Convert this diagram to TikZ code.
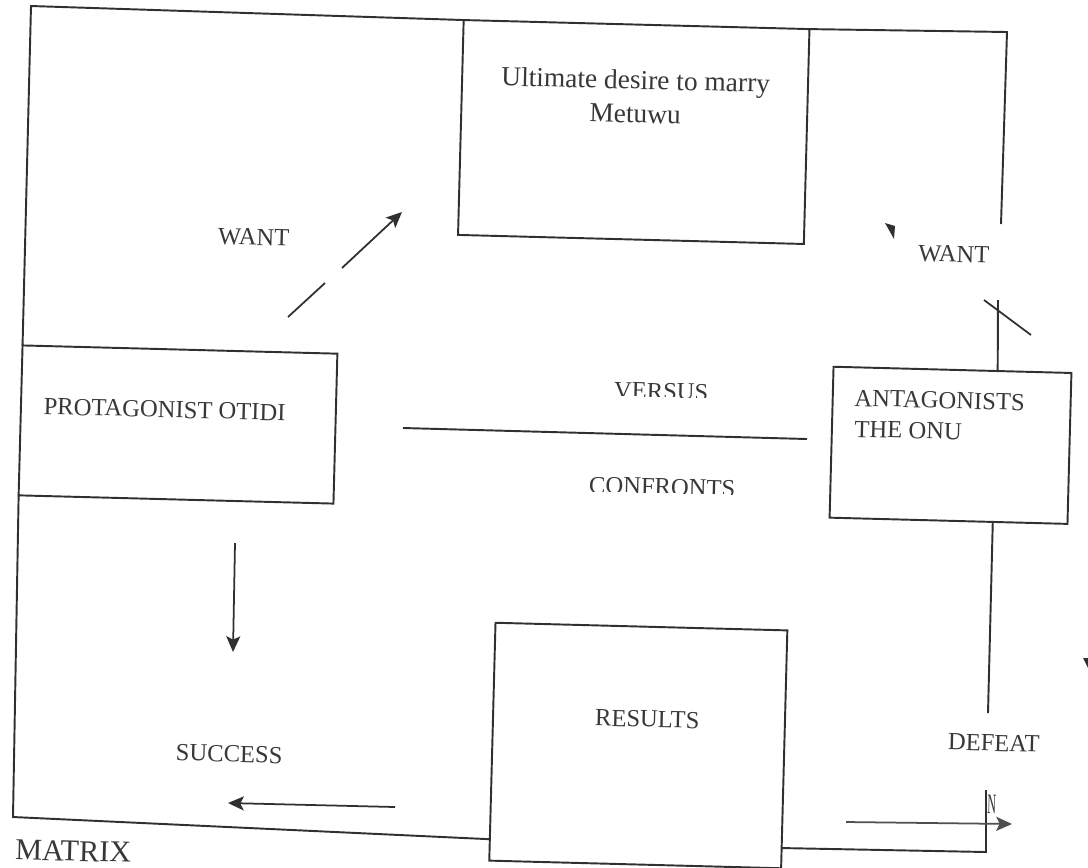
\documentclass[tikz,border=0pt]{standalone}
\usepackage{fontspec}
\setmainfont{Liberation Serif}
\usetikzlibrary{arrows.meta,calc}
\definecolor{ink}{HTML}{303030}
\definecolor{txt}{HTML}{383838}
\begin{document}
\begin{tikzpicture}[x=0.02cm,y=-0.02cm,
  frame/.style={draw=ink,line width=1.1pt},
  boxnode/.style={draw=ink,line width=1.1pt,rotate=-1.5,inner sep=0pt,outer sep=0pt},
  lbl/.style={text=txt,rotate=-1.5,inner sep=0pt,anchor=base,font=\fontsize{14}{16}\selectfont},
  biglbl/.style={lbl,font=\fontsize{15.6}{19}\selectfont},
  conn/.style={draw=ink,line width=1pt,-{Stealth[length=9pt,width=8pt,inset=2pt]}},
]
\fill[white] (0,0) rectangle (1088,867);
\useasboundingbox (0,0) rectangle (1088,867);

% boxes
\node[boxnode,minimum width=6.92cm,minimum height=4.30cm] (ult) at (633.75,132) {};
\node[boxnode,minimum width=6.30cm,minimum height=3.00cm] (pro) at (178,424.5) {};
\node[boxnode,minimum width=4.76cm,minimum height=3.02cm] (ant) at (950.5,445.3) {};
\node[boxnode,minimum width=5.84cm,minimum height=4.76cm] (res) at (638.3,745.5) {};

% box texts
\node[biglbl] (ultA) at (635.5,89) {Ultimate desire to marry};
\node[biglbl] (ultB) at (635,123) {Metuwu};
\node[lbl] (proT) at (164.5,417.5) {PROTAGONIST OTIDI};
\node[lbl,anchor=base west] (antA) at (854,406) {ANTAGONISTS};
\node[lbl,anchor=base west] (antB) at (854,437) {THE ONU};
\node[lbl] (resT) at (647,727) {RESULTS};

% free labels
\node[lbl] (wantL) at (253.5,245) {WANT};
\node[lbl] (wantR) at (953.5,262) {WANT};
\node[lbl] (succ) at (229,762) {SUCCESS};
\node[lbl] (def) at (993.5,751) {DEFEAT};
\node[lbl,font=\fontsize{17.2}{20}\selectfont] (mat) at (73,861) {MATRIX};
\node[lbl,anchor=base west,xscale=0.5,yscale=1.15] (nn) at (987,813) {N};

\begin{scope}
  \clip (560,394) -- (760,399) -- (760,360) -- (560,360) -- cycle;
  \node[lbl] (vs) at (661,399.5) {VERSUS};
\end{scope}
\begin{scope}
  \clip (540,490) -- (780,495) -- (780,460) -- (540,460) -- cycle;
  \node[lbl] (cf) at (662,495) {CONFRONTS};
\end{scope}

% frame coordinates
\coordinate (TLc) at (31,6);
\coordinate (TRc) at (1007,32);
\coordinate (r1) at (1001,224);
\coordinate (r2) at (998,300);
\coordinate (r5) at (988,713);
\coordinate (r6) at (986,790);
\coordinate (BRc) at (986,852);
\coordinate (BLc) at (13,817);

\draw[frame] (pro.north west) -- (TLc) -- (ult.north west);
\draw[frame] (ult.north east) -- (TRc) -- (r1);
\draw[frame] (r2) -- ($(ant.north west)!0.69!(ant.north east)$);
\draw[frame] ($(ant.south west)!0.686!(ant.south east)$) -- (r5);
\draw[frame] (r6) -- (BRc) -- ($(res.north east)!0.915!(res.south east)$);
\draw[frame] (pro.south west) -- (BLc) -- ($(res.north west)!0.91!(res.south west)$);

% versus line
\coordinate (vA) at (403,428);
\coordinate (vB) at (807,439);
\draw[frame] (vA) -- (vB);

% cross stroke on right line
\coordinate (dA) at (984,300);
\coordinate (dB) at (1031,335);
\draw[frame,line width=1pt] (dA) -- (dB);

% arrows
\coordinate (w1) at (288,317);
\coordinate (w2) at (325,283);
\coordinate (w3) at (342,268);
\coordinate (w4) at (402,212);
\draw[frame,line width=1pt] (w1) -- (w2);
\draw[conn] (w3) -- (w4);

\coordinate (d1) at (235,543);
\coordinate (d2) at (233,652);
\draw[conn] (d1) -- (d2);

\coordinate (l1) at (395,807);
\coordinate (l2) at (228,803);
\draw[conn] (l1) -- (l2);

\coordinate (b1) at (846,822);
\coordinate (b2) at (1012,824);
\draw[conn,draw=ink!85] (b1) -- (b2);

% stray arrowhead fragments
\fill[ink] (885,223) -- (895,226) -- (894,239) -- cycle;
\fill[ink] (1083,658) -- (1088,658) -- (1088,668) -- cycle;

\end{tikzpicture}
\end{document}
